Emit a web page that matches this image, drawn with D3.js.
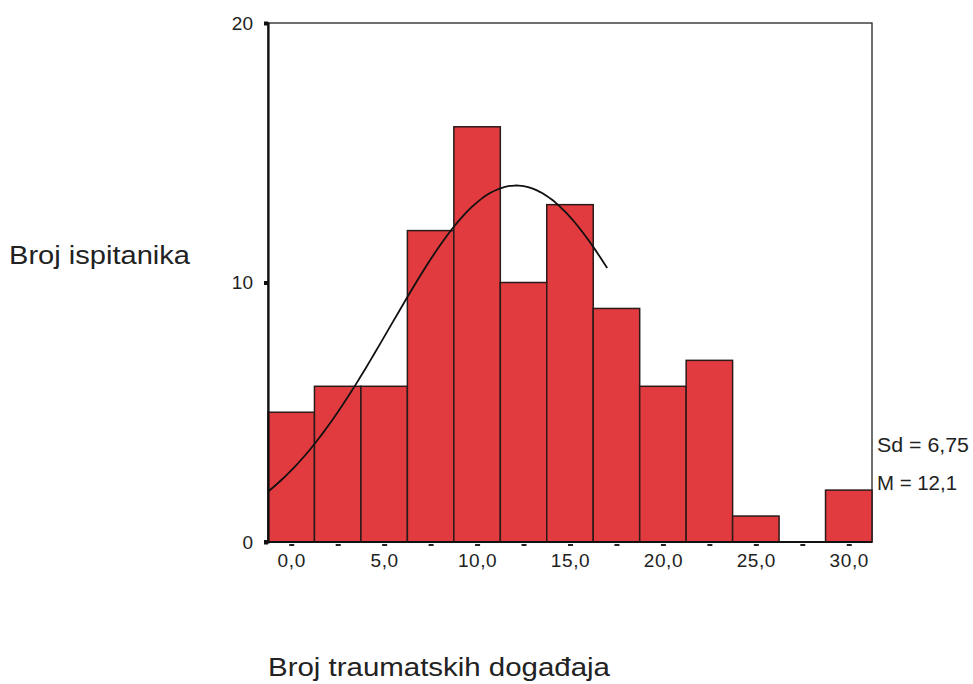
<!DOCTYPE html>
<html>
<head>
<meta charset="utf-8">
<script src="https://cdn.jsdelivr.net/npm/d3@7"></script>
<style>
  body { margin: 0; background: #fff; }
  svg text { font-family: "Liberation Sans", Arial, sans-serif; fill: #222; }
</style>
</head>
<body>
<svg id="chart" width="973" height="684"></svg>
<script>
// histogram data (bin midpoints and counts)
const binMids = [0, 2.5, 5, 7.5, 10, 12.5, 15, 17.5, 20, 22.5, 25, 27.5, 30]
const counts = [5, 6, 6, 12, 16, 10, 13, 9, 6, 7, 1, 0, 2]
const yTicks = [0, 10, 20]
const xLabelTicks = [0, 5, 10, 15, 20, 25, 30]
const mean = 12.1
const sd = 6.75
const curveEnd = 17.1   // spss cut the curve off here
const binW = 2.5

const svg = d3.select('#chart')
const plotL = 268, plotR = 872, plotT = 23, plotB = 542

const x = d3.scaleLinear().domain([-1.25, 31.25]).range([plotL, plotR])
const y = d3.scaleLinear().domain([0, 20]).range([plotB, plotT])

// frame
svg.append('rect')
  .attr('x', plotL).attr('y', plotT)
  .attr('width', plotR - plotL).attr('height', plotB - plotT)
  .attr('fill', 'none').attr('stroke', '#222').attr('stroke-width', 1.3)

// bars
svg.selectAll('rect.bar')
  .data(binMids.map((m, i) => [m, counts[i]]).filter(d => d[1] > 0))
  .enter()
  .append('rect')
  .attr('class', 'bar')
  .attr('x', d => x(d[0] - binW / 2))
  .attr('y', d => y(d[1]))
  .attr('width', d => x(d[0] + binW / 2) - x(d[0] - binW / 2))
  .attr('height', d => y(0) - y(d[1]))
  .attr('fill', '#e23b3f')
  .attr('stroke', '#2a1a1a')
  .attr('stroke-width', 1.5)

// normal curve from M and Sd
const n = d3.sum(counts)
const dens = v => n * binW / (sd * Math.sqrt(2 * Math.PI)) * Math.exp(-0.5 * Math.pow((v - mean) / sd, 2))
const curvePts = d3.range(-1.25, curveEnd + 0.001, 0.25).map(v => [x(v), y(dens(v))])
svg.append('path')
  .attr('d', d3.line().curve(d3.curveBasis)(curvePts))
  .attr('fill', 'none')
  .attr('stroke', '#111')
  .attr('stroke-width', 1.8)

// axes
const yAxis = svg.append('g')
  .attr('transform', `translate(${plotL},0)`)
  .call(d3.axisLeft(y).tickValues(yTicks).tickSize(4).tickPadding(11))
yAxis.select('.domain').attr('stroke', '#111').attr('stroke-width', 2.2)
yAxis.selectAll('.tick line').attr('stroke', '#111').attr('stroke-width', 4)
yAxis.selectAll('.tick text').attr('font-size', 19)

const fmt = d => d3.format('.1f')(d).replace('.', ',')
const xAxis = svg.append('g')
  .attr('transform', `translate(0,${plotB + 2})`)
  .call(d3.axisBottom(x).tickValues(binMids).tickSize(2).tickPadding(8)
    .tickFormat(d => xLabelTicks.includes(d) ? fmt(d) : ''))
xAxis.select('.domain').remove()
xAxis.selectAll('.tick line').attr('stroke', '#222').attr('stroke-width', 5)
xAxis.selectAll('.tick text').attr('font-size', 19).attr('letter-spacing', 0.6)

svg.append('line')
  .attr('x1', plotL - 2).attr('x2', plotR)
  .attr('y1', plotB).attr('y2', plotB)
  .attr('stroke', '#111').attr('stroke-width', 2.2)
svg.append('rect')
  .attr('x', plotL - 4).attr('y', plotB - 2)
  .attr('width', 4).attr('height', 4).attr('fill', '#111')

// stats
svg.append('text').attr('x', 877).attr('y', 452).attr('font-size', 20)
  .attr('textLength', 92).attr('lengthAdjust', 'spacingAndGlyphs')
  .text('Sd = ' + String(sd).replace('.', ','))
svg.append('text').attr('x', 877).attr('y', 490).attr('font-size', 20)
  .attr('textLength', 80).attr('lengthAdjust', 'spacingAndGlyphs')
  .text('M = ' + String(mean).replace('.', ','))

// titles
svg.append('text').attr('x', 9).attr('y', 264).attr('font-size', 26)
  .attr('textLength', 181).attr('lengthAdjust', 'spacingAndGlyphs')
  .text('Broj ispitanika')
svg.append('text').attr('x', 268).attr('y', 676).attr('font-size', 25)
  .attr('textLength', 342).attr('lengthAdjust', 'spacingAndGlyphs')
  .text('Broj traumatskih događaja')
</script>
</body>
</html>
